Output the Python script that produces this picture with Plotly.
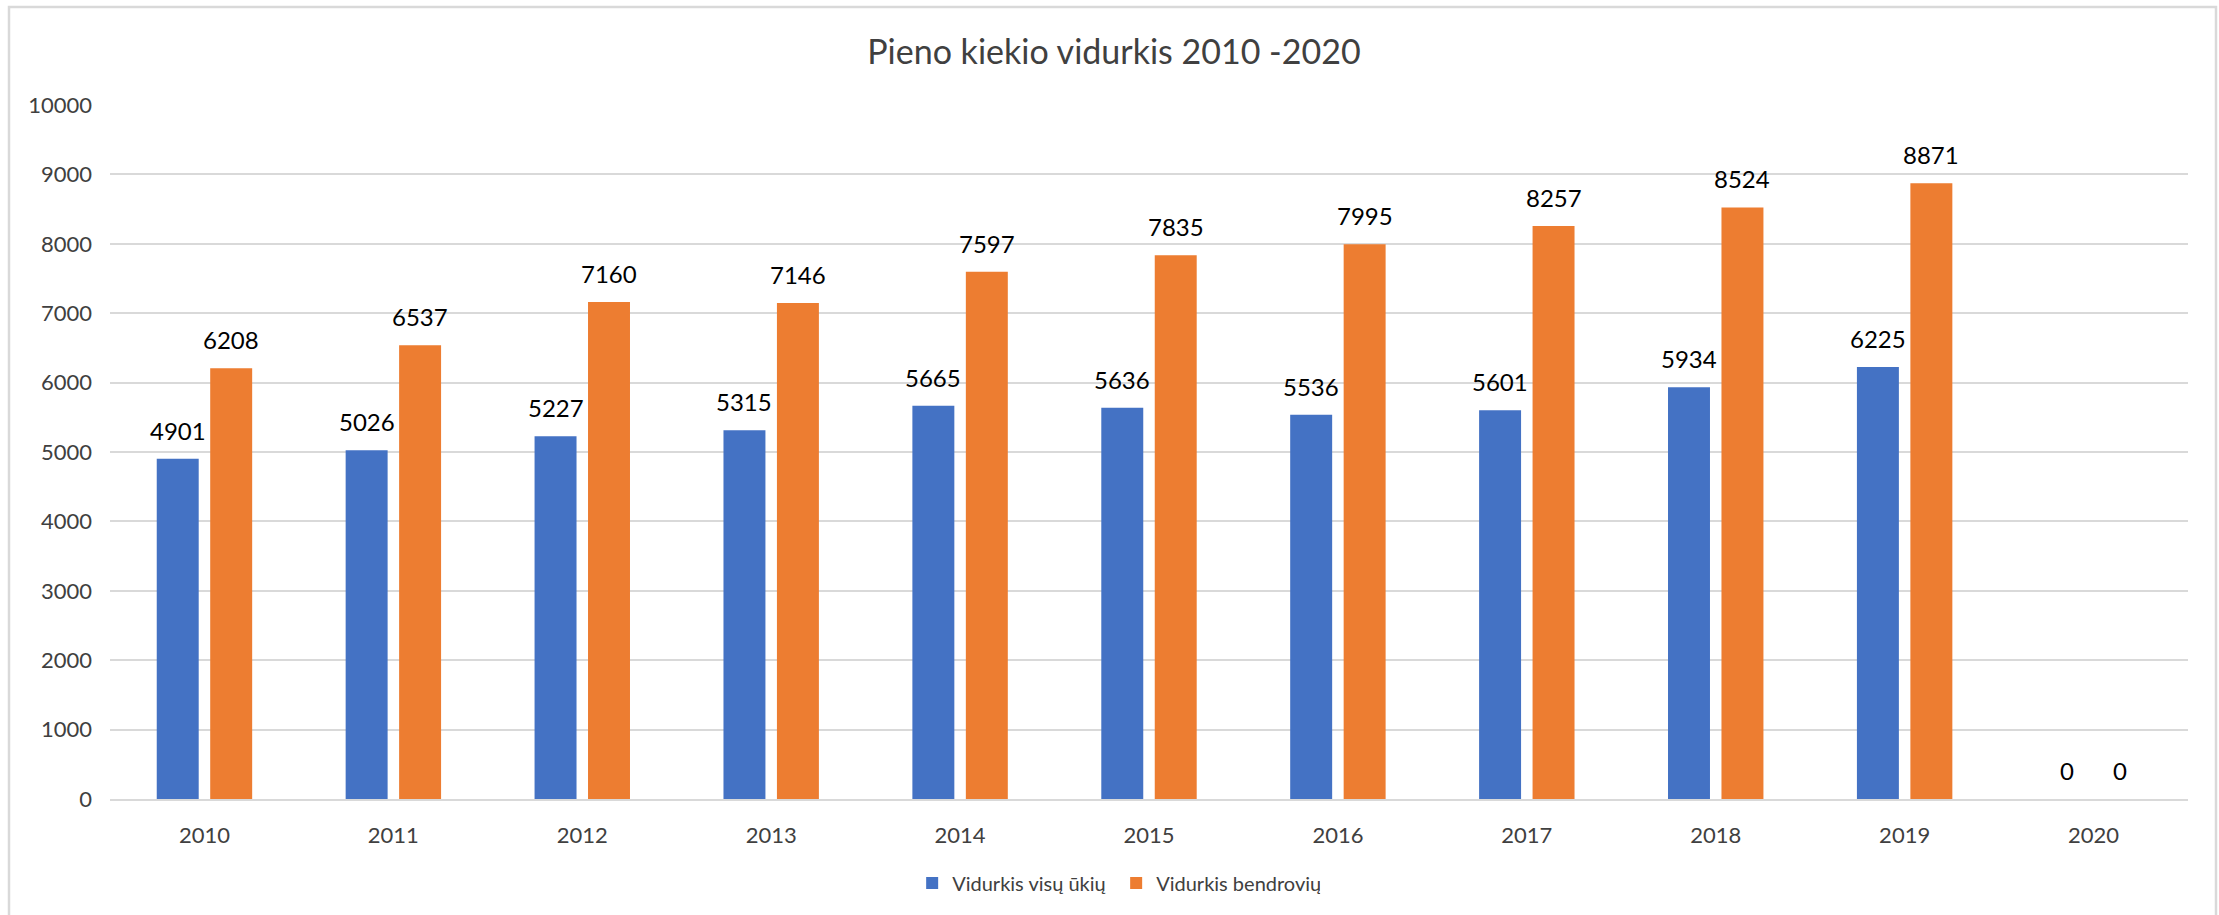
import plotly.graph_objects as go

years = ["2010", "2011", "2012", "2013", "2014", "2015", "2016", "2017", "2018", "2019", "2020"]
visu_ukiu = [4901, 5026, 5227, 5315, 5665, 5636, 5536, 5601, 5934, 6225, 0]
bendroviu = [6208, 6537, 7160, 7146, 7597, 7835, 7995, 8257, 8524, 8871, 0]
series_names = ["Vidurkis visų ūkių", "Vidurkis bendrovių"]
colors = ["#4472C4", "#ED7D31"]
y_ticks = [0, 1000, 2000, 3000, 4000, 5000, 6000, 7000, 8000, 9000, 10000]

W, H = 2219, 915
ML, MR, MT, MB = 110, 31, 105, 116
FONT = "Lato"
BARGAP = 0.434

fig = go.Figure()
for name, vals, col in zip(series_names, [visu_ukiu, bendroviu], colors):
    fig.add_trace(go.Bar(x=years, y=vals, name=name, marker=dict(color=col, line=dict(width=0))))

# data labels (category index positions on the category axis)
plot_w = W - ML - MR
cat_w = plot_w / len(years)
slot = cat_w * (1 - BARGAP) / 2
for i, vals in enumerate([visu_ukiu, bendroviu]):
    shift = (i - 0.5) * slot
    for k, v in enumerate(vals):
        fig.add_annotation(x=k, y=v, text=str(v), showarrow=False, xshift=shift, yshift=12,
                           yanchor="bottom", font=dict(family=FONT, size=24, color="#000000"))

# frame
def px2x(p):
    return (p - ML) / plot_w
def px2y(p):
    return (H - MB - p) / (H - MT - MB)
fig.add_shape(type="rect", xref="paper", yref="paper", x0=px2x(9), x1=px2x(2216), y0=px2y(H + 10), y1=px2y(7),
              line=dict(color="#D9D9D9", width=2.5), layer="below")

fig.update_layout(
    width=W, height=H,
    margin=dict(l=ML, r=MR, t=MT, b=MB),
    paper_bgcolor="white", plot_bgcolor="white",
    barmode="group", bargap=BARGAP, bargroupgap=0.215,
    title=dict(text="Pieno kiekio vidurkis 2010 -2020", x=0.502, xref="container", xanchor="center",
               y=1 - 52 / H, yref="container", yanchor="middle",
               font=dict(family=FONT, size=34, color="#404040")),
    legend=dict(orientation="h", xref="container", yref="container", x=0.503, xanchor="center",
                y=1 - 883 / H, yanchor="middle", font=dict(family=FONT, size=20, color="#404040"),
                itemwidth=30, traceorder="normal", entrywidth=159),
    font=dict(family=FONT, color="#404040"),
)
fig.update_xaxes(type="category", categoryorder="array", categoryarray=years, range=[-0.5, len(years) - 0.5],
                 showgrid=False, showline=True, linecolor="#D9D9D9", linewidth=2,
                 ticks="", tickfont=dict(family=FONT, size=22, color="#404040"), ticklabelstandoff=16)
fig.update_yaxes(range=[0, 10000], tickvals=y_ticks, tickformat="d", showgrid=True, gridcolor="#D9D9D9", gridwidth=2,
                 zeroline=False, showline=False, ticks="",
                 tickfont=dict(family=FONT, size=22, color="#404040"), ticklabelstandoff=17)

fig.write_html("out.html", config={"displayModeBar": False},
               post_script="document.body.style.margin='0';document.body.style.overflow='hidden';")
